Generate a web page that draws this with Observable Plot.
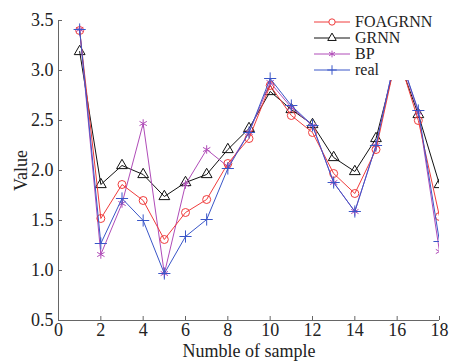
<!DOCTYPE html>
<html>
<head>
<meta charset="utf-8">
<script src="https://cdn.jsdelivr.net/npm/d3@7"></script>
<script src="https://cdn.jsdelivr.net/npm/@observablehq/plot@0.6"></script>
<style>
  html, body { margin: 0; padding: 0; background: #fff; }
  #wrap { position: relative; width: 456px; height: 361px; }
  #legend { position: absolute; left: 310px; top: 4px; width: 146px; height: 76px; background: #fff; }
</style>
</head>
<body>
<div id="wrap"></div>
<script>
const samples = [1,2,3,4,5,6,7,8,9,10,11,12,13,14,15,16,17,18];
const foagrnn = [3.40,1.52,1.86,1.70,1.31,1.58,1.71,2.07,2.32,2.85,2.55,2.38,1.97,1.77,2.21,3.18,2.50,1.54];
const grnn    = [3.19,1.86,2.05,1.96,1.74,1.88,1.96,2.21,2.42,2.79,2.61,2.46,2.13,1.99,2.32,3.15,2.56,1.86];
const bp      = [3.41,1.16,1.67,2.47,0.97,1.86,2.21,2.04,2.38,2.88,2.63,2.45,1.88,1.59,2.25,3.22,2.58,1.19];
const real    = [3.41,1.27,1.72,1.50,0.97,1.34,1.51,2.02,2.38,2.92,2.65,2.45,1.88,1.59,2.25,3.22,2.60,1.29];
const xTicks = [0,2,4,6,8,10,12,14,16,18];
const yTicks = [0.5,1.0,1.5,2.0,2.5,3.0,3.5];
const seriesNames = ["FOAGRNN","GRNN","BP","real"];
const seriesColors = ["#f03c3c","#111111","#b04cb8","#3a56c8"];
const seriesSymbols = ["circle","triangle","asterisk","plus"];

const table = (vals, name) => samples.map((s, i) => ({x: s, y: vals[i], name}));
const data = {
  FOAGRNN: table(foagrnn, "FOAGRNN"),
  GRNN: table(grnn, "GRNN"),
  BP: table(bp, "BP"),
  real: table(real, "real")
};
const order = ["GRNN","BP","FOAGRNN","real"];
const marks = [];
for (const n of order) {
  const i = seriesNames.indexOf(n);
  marks.push(Plot.line(data[n], {x: "x", y: "y", stroke: seriesColors[i], strokeWidth: 1, clip: true}));
  marks.push(Plot.dot(data[n], {x: "x", y: "y", stroke: seriesColors[i], fill: "none", symbol: seriesSymbols[i], r: 4, strokeWidth: 1, clip: true}));
}

const chart = Plot.plot({
  width: 456,
  height: 361,
  marginLeft: 58,
  marginRight: 17,
  marginTop: 20,
  marginBottom: 41,
  style: {fontFamily: "'Liberation Serif', 'Times New Roman', serif", fontSize: "18px", color: "#222", background: "#fff"},
  x: {domain: [0, 18]},
  y: {domain: [0.5, 3.5]},
  marks: [
    ...marks,
    Plot.ruleX([0], {stroke: "#666"}),
    Plot.ruleY([0.5], {stroke: "#666"}),
    Plot.axisX({ticks: xTicks, tickSize: -4, tickPadding: 7, stroke: "#666", tickFormat: d => String(d), label: "Numble of sample", labelAnchor: "center", labelArrow: "none", labelOffset: 36, fill: "#222"}),
    Plot.axisY({ticks: yTicks, tickSize: -4, tickPadding: 9, stroke: "#666", tickFormat: d => d.toFixed(1), label: "Value", labelAnchor: "center", labelOffset: 44, labelArrow: "none", fill: "#222"})
  ]
});
const wrap = document.getElementById("wrap");
wrap.appendChild(chart);

// legend overlay
const leg = document.createElement("div");
leg.id = "legend";
const ns = "http://www.w3.org/2000/svg";
const svg = document.createElementNS(ns, "svg");
svg.setAttribute("width", 146);
svg.setAttribute("height", 76);
const rowY = [18, 34, 50, 66];
const symMap = {circle: d3.symbolCircle, triangle: d3.symbolTriangle, asterisk: d3.symbolAsterisk, plus: d3.symbolPlus};
seriesNames.forEach((n, i) => {
  const y = rowY[i];
  const line = document.createElementNS(ns, "line");
  line.setAttribute("x1", 4); line.setAttribute("x2", 40);
  line.setAttribute("y1", y); line.setAttribute("y2", y);
  line.setAttribute("stroke", seriesColors[i]);
  svg.appendChild(line);
  const sym = document.createElementNS(ns, "path");
  sym.setAttribute("d", d3.symbol(symMap[seriesSymbols[i]], Math.PI * 10)());
  sym.setAttribute("transform", `translate(22,${y})`);
  sym.setAttribute("fill", "#fff");
  sym.setAttribute("stroke", seriesColors[i]);
  svg.appendChild(sym);
  const t = document.createElementNS(ns, "text");
  t.setAttribute("x", 45); t.setAttribute("y", y);
  t.setAttribute("dy", "0.33em");
  t.setAttribute("font-family", "'Liberation Serif', 'Times New Roman', serif");
  t.setAttribute("font-size", "16px");
  t.setAttribute("fill", "#222");
  t.textContent = n;
  svg.appendChild(t);
});
leg.appendChild(svg);
wrap.appendChild(leg);
</script>
</body>
</html>
